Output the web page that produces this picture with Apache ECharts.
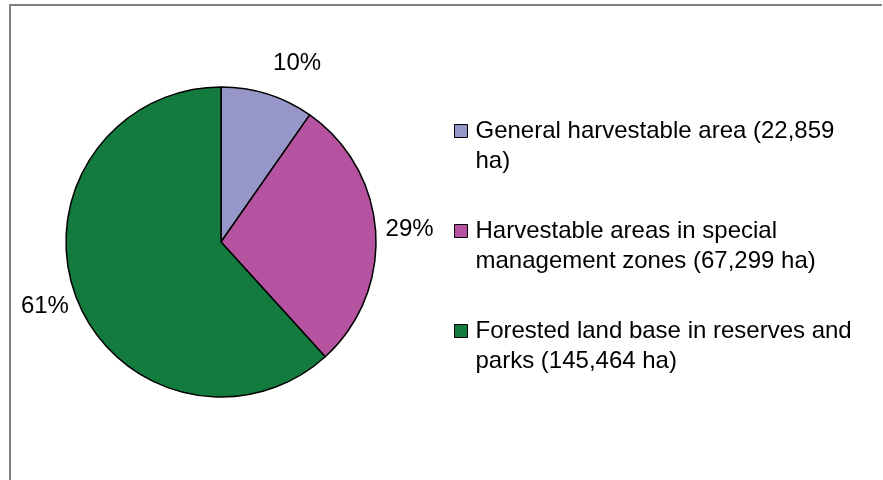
<!DOCTYPE html>
<html>
<head>
<meta charset="utf-8">
<script src="https://cdn.jsdelivr.net/npm/echarts@6/dist/echarts.min.js"></script>
<style>
html,body{margin:0;padding:0;background:#fff;}
#chart{width:883px;height:480px;}
</style>
</head>
<body>
<div id="chart"></div>
<script>
// Data
var categories = [
  'General harvestable area (22,859 ha)',
  'Harvestable areas in special management zones (67,299 ha)',
  'Forested land base in reserves and parks (145,464 ha)'
];
var values = [22859, 67299, 145464];
var percentLabels = ['10%', '29%', '61%'];
var colors = ['#9696C8', '#B553A0', '#147B3E'];

// per-slice label placement (style only)
var labelLens = [
  {length: 32, length2: -4},
  {length: 46, length2: -36},
  {length: 23, length2: -14}
];

var chart = echarts.init(document.getElementById('chart'), null, {renderer: 'canvas'});

var seriesData = categories.map(function (name, i) {
  return {
    name: name,
    value: values[i],
    itemStyle: {color: colors[i]},
    labelLine: {show: false, length: labelLens[i].length, length2: labelLens[i].length2}
  };
});

var option = {
  animation: false,
  backgroundColor: '#ffffff',
  textStyle: {fontFamily: '"Liberation Sans", Arial, sans-serif'},
  graphic: [
    {type: 'polyline', silent: true,
     shape: {points: [[882, 5], [10, 5], [10, 480]]},
     style: {stroke: '#808080', lineWidth: 2, fill: null}}
  ],
  legend: {
    orient: 'vertical',
    left: 454,
    top: 86,
    padding: 0,
    itemGap: 10,
    itemWidth: 13,
    itemHeight: 13,
    icon: 'rect',
    itemStyle: {borderColor: '#000', borderWidth: 1},
    selectedMode: false,
    data: categories,
    formatter: function (name) { return '\n' + name; },
    textStyle: {
      fontFamily: '"Liberation Sans", Arial, sans-serif',
      fontSize: 24,
      color: '#000',
      lineHeight: 30,
      width: 388,
      overflow: 'break',
      padding: [0, 0, 0, 3]
    }
  },
  series: [{
    type: 'pie',
    center: [221, 242],
    radius: 155,
    startAngle: 90,
    clockwise: true,
    avoidLabelOverlap: false,
    itemStyle: {borderColor: '#000', borderWidth: 1.5},
    emphasis: {disabled: true},
    label: {
      show: true,
      position: 'outside',
      distanceToLabelLine: 0,
      fontFamily: '"Liberation Sans", Arial, sans-serif',
      fontSize: 24,
      color: '#000',
      formatter: function (p) { return percentLabels[p.dataIndex]; }
    },
    labelLine: {show: false},
    data: seriesData
  }]
};
chart.setOption(option);
</script>
</body>
</html>
